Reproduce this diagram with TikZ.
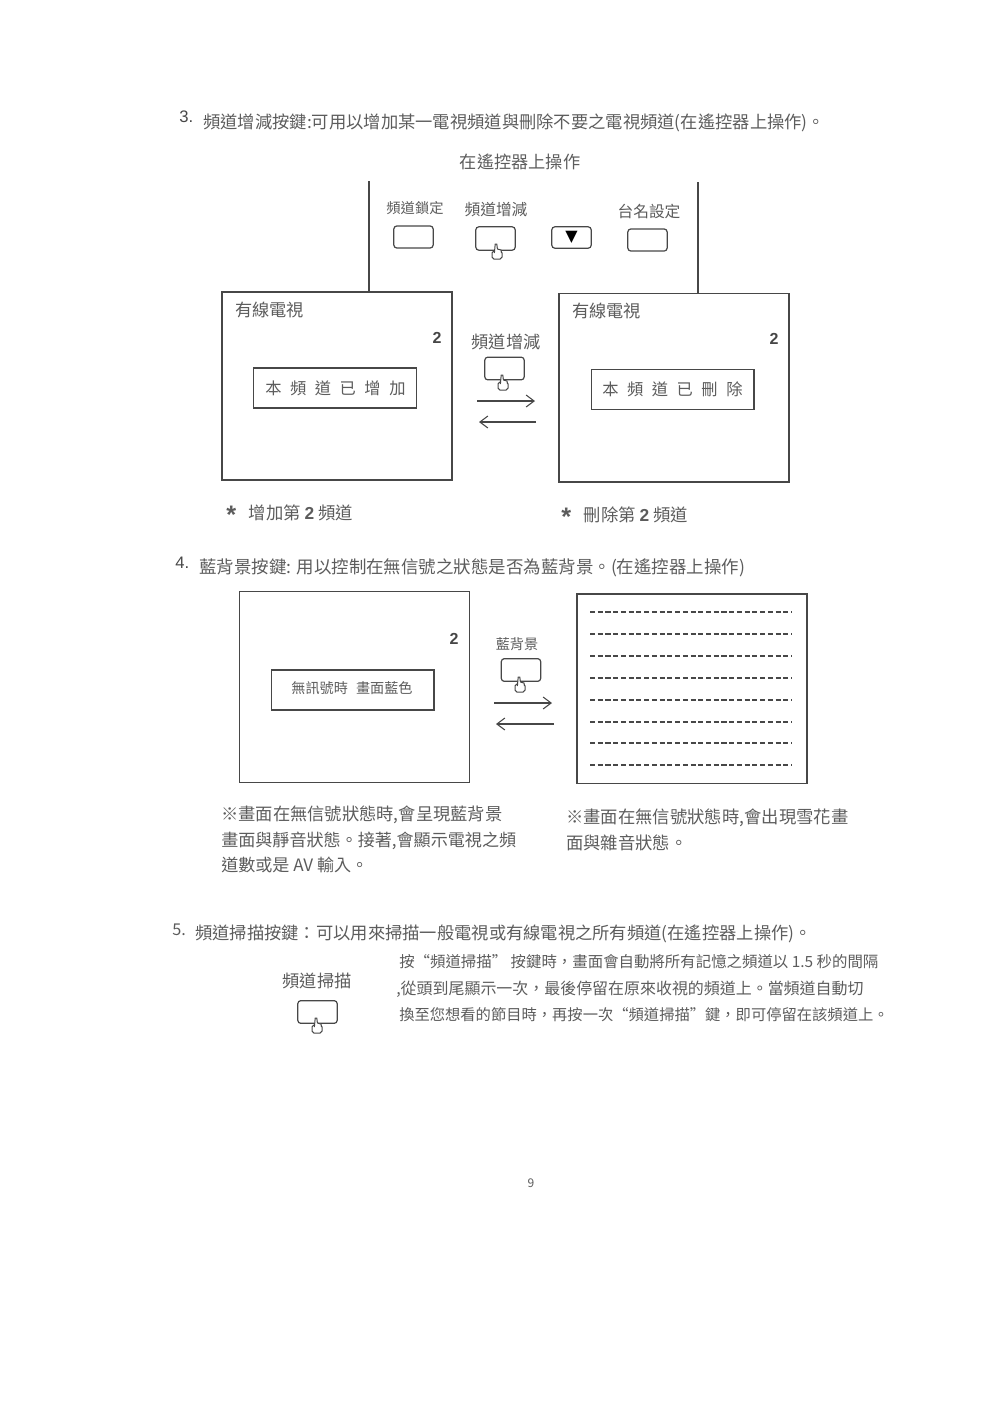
\documentclass[tikz,border=0pt]{standalone}
\usepackage{fontspec}
\setmainfont{Noto Sans CJK TC}
\newfontfamily\latinsans{Liberation Sans}
\usetikzlibrary{arrows.meta}
\definecolor{ink}{gray}{0.28}
\definecolor{txtgray}{gray}{0.36}
\newcommand{\fs}[1]{\fontsize{#1}{#1}\selectfont}
\newcommand{\wcomma}{\char"FF0C\relax}
\newcommand{\wcolon}{\char"FF1A\relax}
\tikzset{
  tvbox/.style={draw=ink,line width=1pt,fill=white,inner sep=0pt,minimum width=172.5pt,minimum height=#1},
  msgbox/.style={draw=ink,line width=1pt,inner sep=0pt,minimum width=122pt,minimum height=30pt},
  keybox/.style={draw=ink,line width=.9pt,rounded corners=2.2pt,inner sep=0pt,minimum width=29.5pt,minimum height=16.5pt},
  txt/.style={text=txtgray,inner sep=0pt,font=\fs{#1}},
  txt/.default=12,
  num/.style={text=ink,inner sep=0pt,font=\latinsans\bfseries\fs{12}},
  flow/.style={draw=ink,line width=.8pt,-{Straight Barb[length=6pt,width=9pt]}},
  wall/.style={draw=ink,line width=1pt},
  snow/.style={draw=ink,line width=1.1pt,dash pattern=on 3.8pt off 2pt},
  handicon/.pic={
    \draw[draw=ink,line width=.75pt,fill=white,rounded corners=1.4pt] (-5,-1) rectangle (5,7);
    \draw[draw=ink,line width=.75pt,fill=white,line join=round] (-2.6,1) -- (-1.8,-8) -- (-.2,-8) -- (.4,-3) -- (4,-2) -- (4.5,1);
  }
}
\begin{document}
\begin{tikzpicture}[x=.75pt,y=-.75pt]
\useasboundingbox (0,0) rectangle (992,1404);
% Section 3
\node[num,anchor=west,font=\latinsans\fs{12.5}] (n3) at (179,117) {3.};
\node[txt=12.97,anchor=west] (h3) at (203,123) {頻道增減按鍵:可用以增加某一電視頻道與刪除不要之電視頻道(在遙控器上操作)。};
\node[txt=12.9] (remote) at (520,162) {在遙控器上操作};
\coordinate (wallAtop) at (369,181);
\coordinate (wallBtop) at (698,182);
\node[tvbox=141pt] (tvA) at (337,386) {};
\node[tvbox=141.5pt] (tvB) at (674,387.5) {};
\draw[wall] (wallAtop) -- (wallAtop |- tvA.north);
\draw[wall] (wallBtop) -- (wallBtop |- tvB.north);
\node[txt=10.7] (lLock) at (415,208) {頻道鎖定};
\node[txt=11.8] (lAdj) at (496,210) {頻道增減};
\node[txt=11.8] (lName) at (649,211) {台名設定};
\node[keybox] (kLock) at (413.5,237) {};
\node[keybox,minimum height=17.5pt] (kAdj) at (495.5,238.5) {};
\node[keybox,minimum height=16pt] (kDown) at (571.5,237.5) {};
\node[text=black,inner sep=0pt,font=\fontspec{DejaVu Sans}\fs{12}] (tri) at (571.5,237.5) {▼};
\node[keybox] (kName) at (647.5,240) {};
\pic at (497,252) {handicon};
\node[txt=12.9,anchor=west] (capA) at (235,310) {有線電視};
\node[txt=12.9,anchor=west] (capB) at (572,311) {有線電視};
\node[num] (numA) at (437,338) {2};
\node[num] (numB) at (774,339) {2};
\node[msgbox] (msgA) at (335,388) {};
\node[msgbox] (msgB) at (672.5,389.5) {};
\node[txt=12.2,anchor=west] (msgAt) at (265,388) {\spaceskip=6.4pt 本 頻 道 已 增 加};
\node[txt=12.2,anchor=west] (msgBt) at (602,389) {\spaceskip=6.4pt 本 頻 道 已 刪 除};
\node[txt=12.9] (lAdj2) at (506,342) {頻道增減};
\node[keybox,minimum height=17pt] (kAdj2) at (504.5,368.5) {};
\pic at (503,383) {handicon};
\coordinate (a1s) at (477,401); \coordinate (a1e) at (535,401);
\coordinate (a2s) at (536,422); \coordinate (a2e) at (479,422);
\draw[flow] (a1s) -- (a1e);
\draw[flow] (a2s) -- (a2e);
\node[txt=13,anchor=west] (noteA) at (226,514) {{\latinsans\bfseries\fs{19}\raisebox{-3.5pt}{*}}\hspace{9.5pt}增加第 {\latinsans\bfseries 2} 頻道};
\node[txt=13,anchor=west] (noteB) at (561,516) {{\latinsans\bfseries\fs{19}\raisebox{-3.5pt}{*}}\hspace{9.5pt}刪除第 {\latinsans\bfseries 2} 頻道};
% Section 4
\node[num,anchor=west,font=\latinsans\fs{12.5}] (n4) at (175,563) {4.};
\node[txt=13.1,anchor=west] (h4) at (199,568) {藍背景按鍵: 用以控制在無信號之狀態是否為藍背景。(在遙控器上操作)};
\node[tvbox=143pt] (tvC) at (354.5,687) {};
\node[tvbox=142pt] (tvD) at (692,688.5) {};
\node[num] (numC) at (454,639) {2};
\node[msgbox] (msgC) at (352.5,690) {};
\node[txt=10.6] (msgCt) at (352,688) {無訊號時\hspace{6pt}畫面藍色};
\foreach \y [count=\i] in {612,634,656,678,700,722,743,765} {
  \coordinate (sL\i) at (590,\y); \coordinate (sR\i) at (792,\y);
  \draw[snow] (sL\i) -- (sR\i);
}
\node[txt=10.6] (lBlue) at (517,644) {藍背景};
\node[keybox,minimum height=17pt] (kBlue) at (521,670) {};
\pic at (520,685) {handicon};
\coordinate (b1s) at (494,703); \coordinate (b1e) at (552,703);
\coordinate (b2s) at (554,724); \coordinate (b2e) at (496,724);
\draw[flow] (b1s) -- (b1e);
\draw[flow] (b2s) -- (b2e);
\node[txt=12.95,anchor=west] (c1) at (221,815) {※畫面在無信號狀態時,會呈現藍背景};
\node[txt=12.8,anchor=west] (c2) at (221,841) {畫面與靜音狀態。接著,會顯示電視之頻};
\node[txt=12.8,anchor=west] (c3) at (221,865) {道數或是 AV 輸入。};
\node[txt=13,anchor=west] (d1) at (566,818) {※畫面在無信號狀態時,會出現雪花畫};
\node[txt=13,anchor=west] (d2) at (566,843) {面與雜音狀態。};
% Section 5
\node[txt=12.2,anchor=west] (n5) at (172,930) {5.};
\node[txt=12.96,anchor=west] (h5) at (195,934) {頻道掃描按鍵\wcolon 可以用來掃描一般電視或有線電視之所有頻道(在遙控器上操作)。};
\node[txt=12.9] (lScan) at (317,981) {頻道掃描};
\node[keybox,minimum height=17pt] (kScan) at (317.5,1012) {};
\pic at (317,1026) {handicon};
\node[txt=11.57,anchor=west] (p1) at (399,962) {按“頻道掃描” 按鍵時\wcomma 畫面會自動將所有記憶之頻道以 1.5 秒的間隔};
\node[txt=11.97,anchor=west] (p2) at (396,989) {,從頭到尾顯示一次\wcomma 最後停留在原來收視的頻道上。當頻道自動切};
\node[txt=11.47,anchor=west] (p3) at (399,1015) {換至您想看的節目時\wcomma 再按一次“頻道掃描”鍵\wcomma 即可停留在該頻道上。};
\node[txt=9] (page) at (531,1183) {9};
\end{tikzpicture}
\end{document}
